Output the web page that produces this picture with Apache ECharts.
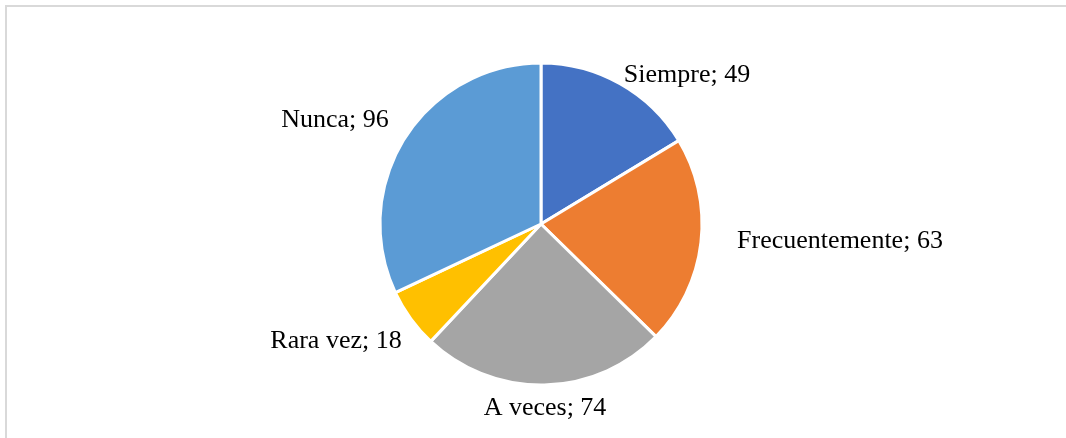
<!DOCTYPE html>
<html>
<head>
<meta charset="utf-8">
<script src="https://cdn.jsdelivr.net/npm/echarts@6/dist/echarts.min.js"></script>
<style>
  html, body { margin: 0; padding: 0; background: #fff; }
  #chart { width: 1066px; height: 438px; }
</style>
</head>
<body>
<div id="chart"></div>
<script>
// datos del gráfico
const categories = ['Siempre', 'Frecuentemente', 'A veces', 'Rara vez', 'Nunca']
const values = [49, 63, 74, 18, 96]

const colors = ['#4472C4', '#ED7D31', '#A5A5A5', '#FFC000', '#5B9BD5']
// posiciones de las etiquetas (centro del texto), como en Excel
const labelPos = [[687, 75], [840, 241], [545, 408], [336, 341], [335, 120]]

const chart = echarts.init(document.getElementById('chart'))

const option = {
    animation: false,
    graphic: [
        {
            type: 'rect',
            shape: { x: 6, y: 6, width: 1200, height: 600 },
            style: { fill: 'none', stroke: '#d9d9d9', lineWidth: 2 },
            silent: true
        }
    ],
    series: [
        {
            type: 'pie',
            center: [541, 224],
            radius: [0, 161],
            startAngle: 90,
            clockwise: true,
            itemStyle: {
                borderColor: '#ffffff',
                borderWidth: 3
            },
            label: {
                show: true,
                position: 'outside',
                formatter: p => p.name + '; ' + p.value,
                fontFamily: 'Liberation Serif',
                fontSize: 26,
                color: '#000000'
            },
            labelLine: { show: false },
            labelLayout: params => ({
                x: labelPos[params.dataIndex][0],
                y: labelPos[params.dataIndex][1],
                align: 'center',
                verticalAlign: 'middle'
            }),
            data: categories.map((name, i) => ({
                name: name,
                value: values[i],
                itemStyle: { color: colors[i] }
            }))
        }
    ]
}

chart.setOption(option)
</script>
</body>
</html>
